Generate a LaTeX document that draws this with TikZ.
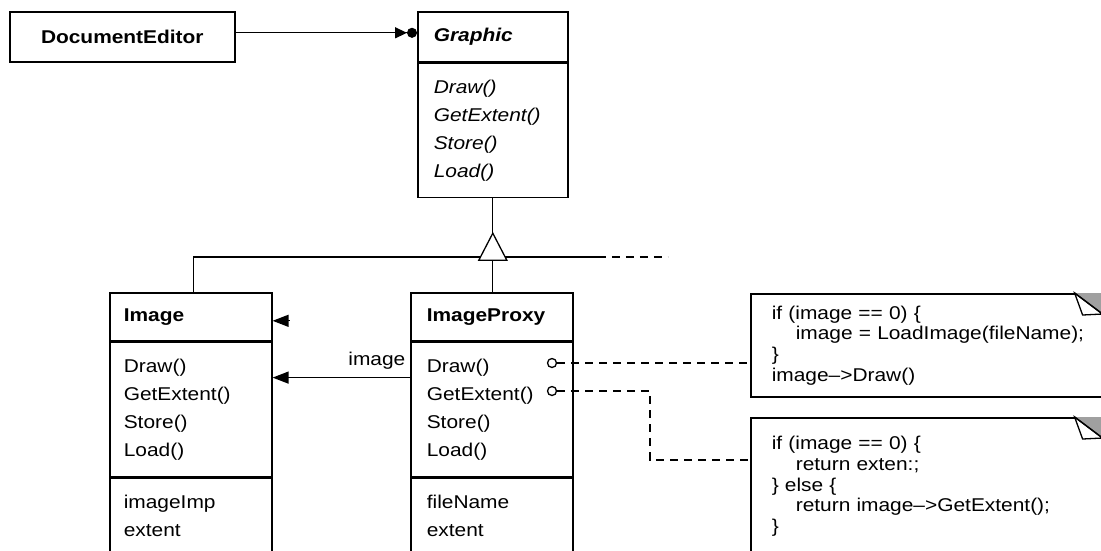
\documentclass[tikz,border=0pt]{standalone}
\usepackage{fontspec}
\setmainfont{Liberation Sans}[FakeStretch=1.13]
\usetikzlibrary{arrows.meta, calc, positioning}
\definecolor{grisDoblez}{RGB}{160,160,160}

\begin{document}
\begin{tikzpicture}[x=1pt, y=-1pt, line width=1.3pt,
    every node/.style={font=\fontsize{18.5}{28}\selectfont},
    caja/.style={draw, line width=1.6pt, anchor=north west, align=left, inner xsep=14pt, inner ysep=0pt},
    cabecera/.style={caja, minimum height=48pt, font=\fontsize{18.5}{28}\selectfont\bfseries},
    metodos/.style={caja, minimum height=134pt},
    atributos/.style={caja, inner ysep=17pt},
    nota/.style={draw, line width=1.6pt, anchor=north west, align=left, inner xsep=21pt, text width=316pt, font=\fontsize{18.5}{20.7}\selectfont},
    circulito/.style={draw, circle, fill=white, minimum size=9pt, inner sep=0pt},
    punta/.style={-{Triangle[length=16pt, width=12pt]}},
    discontinua/.style={dash pattern=on 8pt off 6pt}]

    % Margenes de la figura
    \useasboundingbox (0,0) rectangle (1101,550);

    % Clase cliente
    \node[caja, minimum height=50pt, text width=197pt, align=center, font=\fontsize{18.5}{28}\selectfont\bfseries] (editor) at (9,11) {DocumentEditor};

    % Clase abstracta Graphic (cursiva)
    \node[cabecera, minimum height=50pt, inner xsep=16pt, text width=118pt, font=\fontsize{18.5}{28}\selectfont\bfseries\itshape] (graphic) at (417,11) {Graphic};
    \node[metodos, inner xsep=16pt, text width=118pt, font=\fontsize{18.5}{28}\selectfont\itshape, below=0pt of graphic] (graphicops) {Draw()\\GetExtent()\\Store()\\Load()};

    % Clase real Image
    \node[cabecera, text width=134pt] (image) at (109,292) {Image};
    \node[metodos, text width=134pt, below=0pt of image] (imageops) {Draw()\\GetExtent()\\Store()\\Load()};
    \node[atributos, text width=134pt, below=0pt of imageops] (imageattr) {imageImp\\extent\\~};

    % Clase ImageProxy
    \node[cabecera, inner xsep=16pt, text width=130pt] (proxy) at (410,292) {ImageProxy};
    \node[metodos, inner xsep=16pt, text width=130pt, below=0pt of proxy] (proxyops) {Draw()\\GetExtent()\\Store()\\Load()};
    \node[atributos, inner xsep=16pt, text width=130pt, below=0pt of proxyops] (proxyattr) {fileName\\extent\\~};

    % Notas con el codigo de las operaciones
    \node[nota, minimum height=103pt] (nota1) at (750,293) {if (image == 0) \{\\\hspace*{24pt}image = LoadImage(fileName);\\\}\\image-->Draw()};
    \node[nota, inner ysep=18.5pt] (nota2) at (750,417) {if (image == 0) \{\\\hspace*{24pt}return exten:;\\\} else \{\\\hspace*{24pt}return image-->GetExtent();\\\}\\~};

    % Esquina doblada de cada nota
    \foreach \n in {nota1, nota2} {
        \fill[grisDoblez] ($(\n.north east)+(-35,0)$) -- ($(\n.north east)+(6,0)$) -- ($(\n.north east)+(6,31)$) -- cycle;
        \draw[fill=white] ($(\n.north east)+(-35,0)$) -- ($(\n.north east)+(-27,22)$) -- ($(\n.north east)+(-7,21)$) -- cycle;
        \draw ($(\n.north east)+(-35,0)$) -- ($(\n.north east)+(6,31)$);
    }

    % Agregacion DocumentEditor -> Graphic
    \draw[-{Triangle[length=12pt, width=11pt] Circle[length=10pt]}] ([shift={(0,-4)}]editor.east) -- ([shift={(0,-4)}]graphic.west);

    % Herencia
    \coordinate (union) at (graphicops.south |- 0,257);
    \draw ([xshift=3pt]image.north) |- (union) -- (union |- proxy.north);
    \draw (union) -- ++(105,0) coordinate (finsolido);
    \draw[discontinua] (finsolido) -- ++(70,0);
    \draw (graphicops.south) -- ++(0,35) coordinate (vertice);
    \draw[fill=white] (vertice) -- ++(-14,27) -- ++(28,0) -- cycle;

    % Referencia image del proxy al objeto real
    \draw[punta] ([shift={(0,36)}]proxyops.north west) -- ([shift={(0,36)}]imageops.north east)
        node[pos=0, anchor=south east, inner sep=4pt, yshift=4pt] (rotulo) {image};
    \draw[punta] ([shift={(17,4)}]image.east) -- ([shift={(0,4)}]image.east);

    % Operaciones anotadas
    \node[circulito] (drawdot) at (552,363) {};
    \node[circulito] (extdot) at (552,391) {};
    \draw[discontinua] (drawdot) -- (drawdot -| nota1.west);
    \draw[discontinua] (extdot) -| (650,460) -- (nota2.west |- 650,460);
\end{tikzpicture}
\end{document}
